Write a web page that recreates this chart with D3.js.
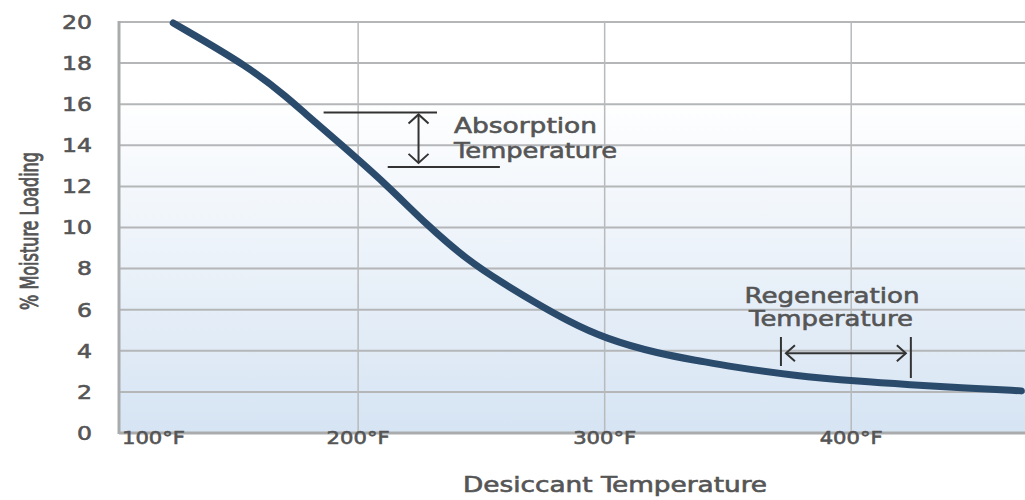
<!DOCTYPE html>
<html>
<head>
<meta charset="utf-8">
<script src="https://cdn.jsdelivr.net/npm/d3@7"></script>
<style>
  html, body { margin: 0; padding: 0; background: #ffffff; }
  svg { display: block; }
</style>
</head>
<body>
<svg id="chart" width="1025" height="500"></svg>
<script>
// ---- data ----
const temperatures = [125, 156, 172, 178, 191, 211, 228, 245, 258, 271, 285, 300, 322, 339, 350, 376, 404, 424, 444, 469];
const moisture     = [19.95, 17.8, 16.25, 15.6, 14.25, 12.15, 10.1, 8.35, 7.35, 6.4, 5.45, 4.6, 3.85, 3.5, 3.25, 2.8, 2.5, 2.35, 2.2, 2.05];
const yTicks = [0, 2, 4, 6, 8, 10, 12, 14, 16, 18, 20];
const xTicks = [100, 200, 300, 400];
const xTickLabels = ["100°F", "200°F", "300°F", "400°F"];
const xTitle = "Desiccant Temperature";
const yTitle = "% Moisture Loading";
const absorptionLabel = ["Absorption", "Temperature"];
const regenerationLabel = ["Regeneration", "Temperature"];
// annotation band values (data units)
const absorptionLevels = [15.6, 12.95];
const absorptionSpans = [[186, 232], [212, 257.5]];
const absorptionArrowT = 224.5;
const regenerationTemps = [371.5, 424.2];
const regenerationArrowM = 3.88;

// ---- layout ----
const svg = d3.select("#chart");
const pL = 119, pR = 1025, pT = 22, pB = 433;
const x = d3.scaleLinear().domain([103, 470.5]).range([pL, pR]);
const y = d3.scaleLinear().domain([0, 20]).range([pB, pT]);
const textFont = "DejaVu Sans, sans-serif";
const titleFont = "Liberation Sans Narrow, DejaVu Sans Condensed, DejaVu Sans, sans-serif";
const textColor = "#555";

const defs = svg.append("defs");
const grad = defs.append("linearGradient").attr("id", "bg").attr("x1", 0).attr("y1", 0).attr("x2", 0).attr("y2", 1);
grad.append("stop").attr("offset", "0%").attr("stop-color", "#ffffff");
grad.append("stop").attr("offset", "18%").attr("stop-color", "#ffffff");
grad.append("stop").attr("offset", "100%").attr("stop-color", "#d6e4f3");

svg.append("rect").attr("x", pL).attr("y", pT).attr("width", pR - pL).attr("height", pB - pT)
  .attr("fill", "url(#bg)");

// gridlines
const grid = svg.append("g");
grid.selectAll("line.h").data(yTicks.filter(d => d > 0)).join("line")
  .attr("x1", pL).attr("x2", pR).attr("y1", d => y(d)).attr("y2", d => y(d))
  .attr("stroke", "#b4b6b8").attr("stroke-width", 2);
grid.selectAll("line.v").data(xTicks.filter(d => d > 100)).join("line")
  .attr("x1", d => x(d)).attr("x2", d => x(d)).attr("y1", pT).attr("y2", pB)
  .attr("stroke", "#b8babc").attr("stroke-width", 1.5);

// axis lines
svg.append("line").attr("x1", pL).attr("x2", pL).attr("y1", pT - 1).attr("y2", pB + 1)
  .attr("stroke", "#a9abad").attr("stroke-width", 3);
svg.append("line").attr("x1", pL).attr("x2", pR).attr("y1", pB).attr("y2", pB)
  .attr("stroke", "#a9abad").attr("stroke-width", 3);

function medium(sel) {
  return sel.attr("fill", textColor).attr("stroke", textColor).attr("stroke-width", 0.6);
}
function fitTo(sel, w) {
  sel.attr("textLength", w).attr("lengthAdjust", "spacingAndGlyphs");
}

// y tick labels
const yl = svg.append("g").selectAll("text").data(yTicks).join("text")
  .attr("x", 92).attr("y", d => y(d)).attr("dy", "0.36em")
  .attr("text-anchor", "end")
  .attr("font-family", textFont).attr("font-size", 19)
  .text(d => d);
medium(yl);
yl.each(function (d) { d3.select(this).attr("textLength", String(d).length * 15).attr("lengthAdjust", "spacingAndGlyphs"); });

// x tick labels
const xl = svg.append("g").selectAll("text").data(xTicks).join("text")
  .attr("x", (d, i) => i === 0 ? pL + 3 : x(d))
  .attr("y", 444)
  .attr("text-anchor", (d, i) => i === 0 ? "start" : "middle")
  .attr("font-family", textFont).attr("font-size", 18)
  .text((d, i) => xTickLabels[i]);
medium(xl);
fitTo(xl, 63);

// axis titles
const xt = svg.append("text").attr("x", 615).attr("y", 492).attr("text-anchor", "middle")
  .attr("font-family", titleFont).attr("font-size", 22)
  .text(xTitle);
medium(xt);
fitTo(xt, 304);
const yt = svg.append("text").attr("transform", "translate(38,231) rotate(-90)").attr("text-anchor", "middle")
  .attr("font-family", titleFont).attr("font-size", 24)
  .text(yTitle);
medium(yt).attr("stroke-width", 0.9);
fitTo(yt, 158);

// curve
const pts = temperatures.map((t, i) => [t, moisture[i]]);
const line = d3.line().x(d => x(d[0])).y(d => y(d[1])).curve(d3.curveBasis);
svg.append("path").attr("d", line(pts)).attr("fill", "none")
  .attr("stroke", "#2b4b6d").attr("stroke-width", 7).attr("stroke-linecap", "round");

// absorption annotation
const ann = svg.append("g").attr("stroke", "#333").attr("stroke-width", 2).attr("fill", "none");
absorptionLevels.forEach((m, i) => {
  ann.append("line").attr("x1", x(absorptionSpans[i][0])).attr("x2", x(absorptionSpans[i][1]))
    .attr("y1", y(m)).attr("y2", y(m));
});
const ax = x(absorptionArrowT), ay1 = y(absorptionLevels[0]) + 2, ay2 = y(absorptionLevels[1]) - 4;
ann.append("line").attr("x1", ax).attr("x2", ax).attr("y1", ay1).attr("y2", ay2);
ann.append("path").attr("d", `M${ax - 10},${ay1 + 9}L${ax},${ay1}L${ax + 10},${ay1 + 9}`);
ann.append("path").attr("d", `M${ax - 10},${ay2 - 9}L${ax},${ay2}L${ax + 10},${ay2 - 9}`);

const t1 = svg.append("text").attr("x", 454).attr("y", 133)
  .attr("font-family", textFont).attr("font-size", 21).text(absorptionLabel[0]);
medium(t1); fitTo(t1, 143);
const t2 = svg.append("text").attr("x", 454).attr("y", 158)
  .attr("font-family", textFont).attr("font-size", 21).text(absorptionLabel[1]);
medium(t2); fitTo(t2, 163);

// regeneration annotation
const rx1 = x(regenerationTemps[0]), rx2 = x(regenerationTemps[1]), ry = y(regenerationArrowM);
ann.append("line").attr("x1", rx1).attr("x2", rx1).attr("y1", 337).attr("y2", 366);
ann.append("line").attr("x1", rx2).attr("x2", rx2).attr("y1", 337).attr("y2", 378);
ann.append("line").attr("x1", rx1 + 5).attr("x2", rx2 - 5).attr("y1", ry).attr("y2", ry);
ann.append("path").attr("d", `M${rx1 + 14},${ry - 8}L${rx1 + 5},${ry}L${rx1 + 14},${ry + 8}`);
ann.append("path").attr("d", `M${rx2 - 14},${ry - 8}L${rx2 - 5},${ry}L${rx2 - 14},${ry + 8}`);

const t3 = svg.append("text").attr("x", 832).attr("y", 303).attr("text-anchor", "middle")
  .attr("font-family", textFont).attr("font-size", 21).text(regenerationLabel[0]);
medium(t3); fitTo(t3, 175);
const t4 = svg.append("text").attr("x", 831).attr("y", 326).attr("text-anchor", "middle")
  .attr("font-family", textFont).attr("font-size", 21).text(regenerationLabel[1]);
medium(t4); fitTo(t4, 164);
</script>
</body>
</html>
